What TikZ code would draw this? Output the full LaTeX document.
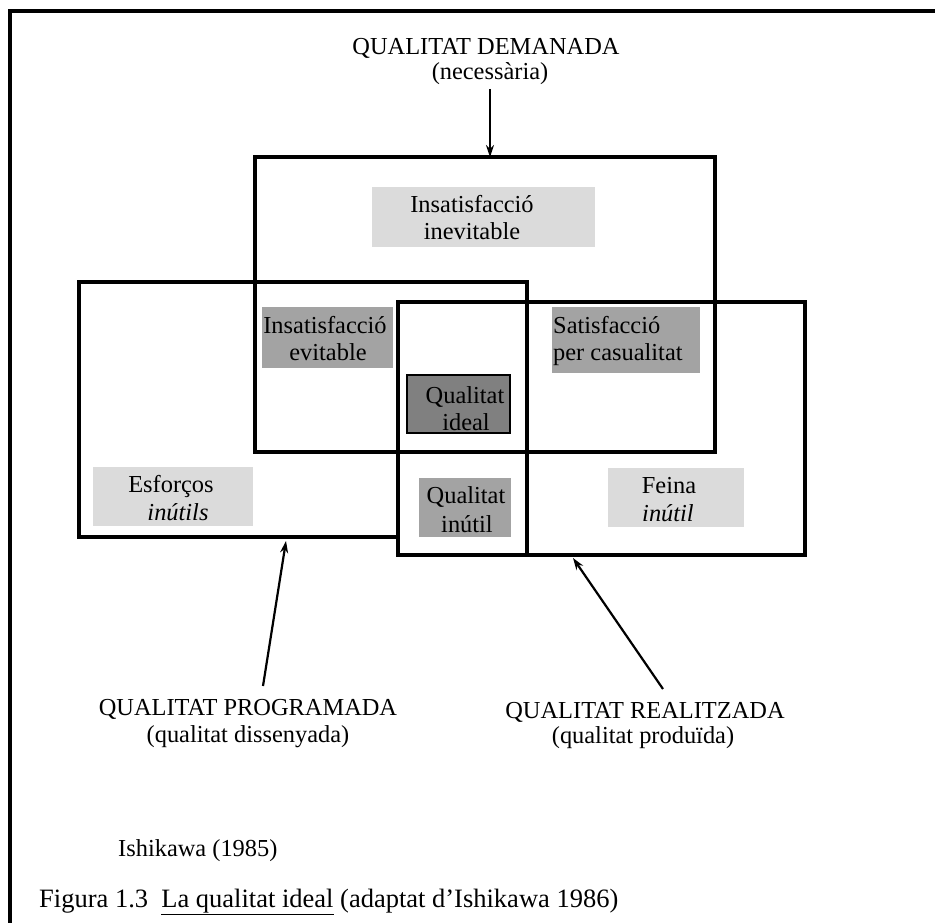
\documentclass[tikz,border=0pt]{standalone}
\usepackage{fontspec}
\setmainfont{Liberation Serif}
\usetikzlibrary{arrows.meta}

\begin{document}
\begin{tikzpicture}[x=1pt,y=-1pt,
  frameline/.style={line width=3.2pt},
  boxline/.style={line width=3.2pt},
  txt/.style={font=\fontsize{24.4}{28}\selectfont, inner sep=0pt, anchor=base},
  captxt/.style={font=\fontsize{26.5}{30}\selectfont, inner sep=0pt, anchor=base west},
  lightfill/.style={fill=black!14},
  midfill/.style={fill=black!36},
  darkfill/.style={fill=black!50},
  conn/.style={line width=2.2pt, -{Stealth[length=12pt,width=8pt]}}]

\useasboundingbox (0,0) rectangle (935,923);

% page frame (open on the right and at the bottom)
\draw[frameline] (10,923) -- (10,11) -- (935,11);

% shaded label backgrounds
\fill[lightfill] (372,187) rectangle (595,247);
\fill[midfill]   (262,307) rectangle (393,368);
\fill[midfill]   (552,307) rectangle (700,373);
\fill[midfill]   (419,478) rectangle (511,537);
\fill[lightfill] (608,468) rectangle (744,527);
\fill[lightfill] (93,467)  rectangle (253,526);
\filldraw[darkfill, draw=black, line width=2.6pt] (407,375) rectangle (510,433);

% required quality
\draw[boxline] (255,157) rectangle (715,452);
% programmed quality
\draw[boxline] (398,537) -- (79,537) -- (79,282) -- (527,282) -- (527,555);
% realised quality
\draw[boxline] (398,302) rectangle (805,555);

% arrow end points on the boxes
\coordinate (demin) at (490,157);
\coordinate (progin) at (286,541);
\coordinate (realin) at (573,558);

% headings
\node[txt] (dem) at (486,55) {QUALITAT DEMANADA};
\node[txt] (demsub) at (490,80) {(necessària)};
\node[txt] (prog) at (248,715) {QUALITAT PROGRAMADA};
\node[txt] (progsub) at (248,742) {(qualitat dissenyada)};
\node[txt] (real) at (645,718) {QUALITAT REALITZADA};
\node[txt] (realsub) at (643,743) {(qualitat produïda)};

% connectors
\draw[conn] (490,89) -- (demin);
\coordinate (progout) at (263,686);
\coordinate (realout) at (663,689);
\draw[conn] (progout) -- (progin);
\draw[conn] (realout) -- (realin);

% region labels
\node[txt] (ii1) at (472,212) {Insatisfacció};
\node[txt] (ii2) at (472,240) {inevitable};
\node[txt] (ie1) at (325,333) {Insatisfacció};
\node[txt] (ie2) at (328,360) {evitable};
\node[txt, anchor=base west] (sc1) at (553,333) {Satisfacció};
\node[txt, anchor=base west] (sc2) at (553,360) {per casualitat};
\node[txt] (qi1) at (465,403) {Qualitat};
\node[txt] (qi2) at (466,430) {ideal};
\node[txt] (qu1) at (466,503) {Qualitat};
\node[txt] (qu2) at (467,532) {inútil};
\node[txt] (fi1) at (669,493) {Feina};
\node[txt] (fi2) at (668,521) {\itshape inútil};
\node[txt] (es1) at (171,492) {Esforços};
\node[txt] (es2) at (178,520) {\itshape inútils};

% source and caption
\node[txt, anchor=base west] (src) at (118,856) {Ishikawa (1985)};
\node[captxt] (cap) at (39,907) {Figura 1.3\enspace\underline{La qualitat ideal} (adaptat d’Ishikawa 1986)};

\end{tikzpicture}
\end{document}
